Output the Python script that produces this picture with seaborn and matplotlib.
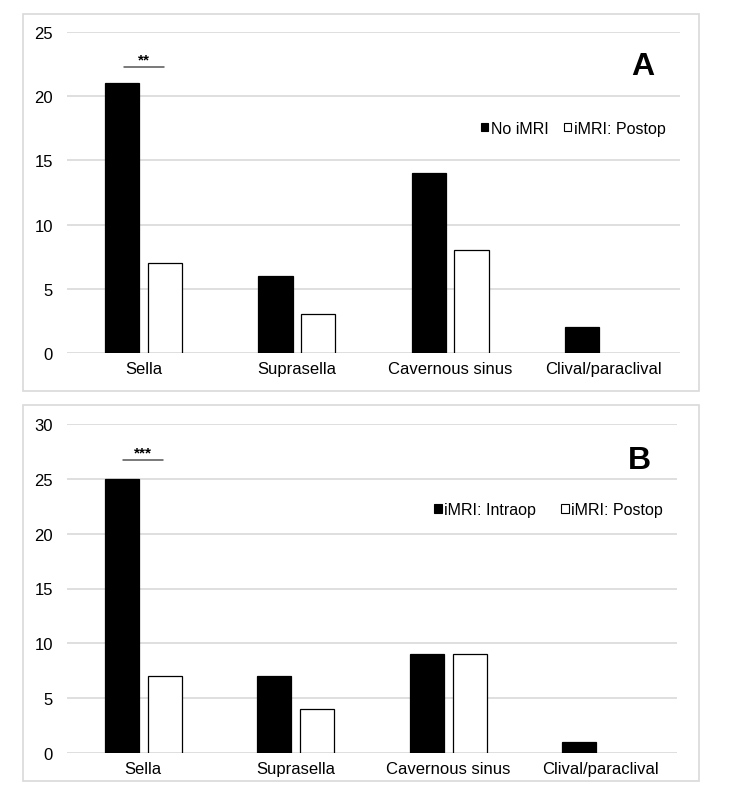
import matplotlib
matplotlib.use("Agg")
import matplotlib.pyplot as plt
import seaborn as sns
import pandas as pd
from matplotlib.patches import Rectangle, Patch

categories = ["Sella", "Suprasella", "Cavernous sinus", "Clival/paraclival"]
a_series = ["No iMRI", "iMRI: Postop"]
a_black = [21, 6, 14, 2]
a_white = [7, 3, 8, 0]
b_series = ["iMRI: Intraop", "iMRI: Postop"]
b_black = [25, 7, 9, 1]
b_white = [7, 4, 9, 0]
a_ticks = [0, 5, 10, 15, 20, 25]
b_ticks = [0, 5, 10, 15, 20, 25, 30]

sns.set_theme(style="white")
plt.rcParams['font.family'] = ['Liberation Sans', 'DejaVu Sans']
plt.rcParams['text.color'] = 'black'

W, H = 732, 803
fig = plt.figure(figsize=(W / 100, H / 100), dpi=100)

def fx(px):
    return px / W

def fy(py):
    return 1 - py / H

# panel boxes
for (x0, y0, x1, y1) in [(23, 15, 699, 392), (23, 406, 699, 782)]:
    fig.patches.append(Rectangle((fx(x0), fy(y1)), fx(x1) - fx(x0), fy(y0) - fy(y1),
                                 transform=fig.transFigure, fill=False,
                                 edgecolor="#d9d9d9", linewidth=1.2, zorder=0))

def panel(rect, black, white, names, ticks, letter, stars, star_y, legend_y, letter_y, colsp):
    ax = fig.add_axes(rect)
    df = pd.DataFrame({
        "cat": categories * 2,
        "val": black + white,
        "series": [names[0]] * 4 + [names[1]] * 4,
    })
    sns.barplot(data=df, x="cat", y="val", hue="series", ax=ax,
                palette=["black", "white"], width=0.56, gap=0.2,
                edgecolor="black", linewidth=0.9, legend=False, zorder=3)
    for p in ax.patches:
        if p.get_height() == 0:
            p.set_visible(False)
    ax.set_xlim(-0.5, 3.5)
    ax.set_ylim(0, ticks[-1])
    ax.set_yticks(ticks)
    ax.yaxis.grid(True, color="#d9d9d9", linewidth=1.2, zorder=0)
    ax.set_axisbelow(True)
    for s in ax.spines.values():
        s.set_visible(False)
    ax.set_xlabel("")
    ax.set_ylabel("")
    ax.tick_params(axis="y", labelsize=12, pad=10, length=0, labelcolor="black")
    ax.tick_params(axis="x", labelsize=12, pad=6, length=0, labelcolor="black")
    ax.text(0.939, letter_y, letter, transform=ax.transAxes, color="black",
            fontsize=23, fontweight="bold", ha="center", va="center")
    # significance marker
    ax.plot([-0.13, 0.13], [star_y, star_y], color="#555555", linewidth=1.1, zorder=4)
    ax.text(0.0, star_y + 0.05, stars, ha="center", va="bottom", fontsize=11,
            fontweight="bold", color="black")
    handles = [Patch(facecolor="black", edgecolor="black", linewidth=0.8),
               Patch(facecolor="white", edgecolor="black", linewidth=0.8)]
    ax.legend(handles, names, ncol=2, frameon=False, loc="center right",
              bbox_to_anchor=(0.987, legend_y), fontsize=11.5,
              handlelength=0.45, handleheight=0.45, handletextpad=0.15,
              columnspacing=colsp, borderaxespad=0, labelcolor="black")
    return ax

panel([fx(67), fy(354), fx(680) - fx(67), fy(33) - fy(354)],
      a_black, a_white, a_series, a_ticks, "A", "**", 22.3, 0.70, 0.895, 1.0)
panel([fx(67), fy(754), fx(677) - fx(67), fy(425) - fy(754)],
      b_black, b_white, b_series, b_ticks, "B", "***", 26.7, 0.74, 0.89, 1.6)

fig.savefig("out.png", dpi=100)
